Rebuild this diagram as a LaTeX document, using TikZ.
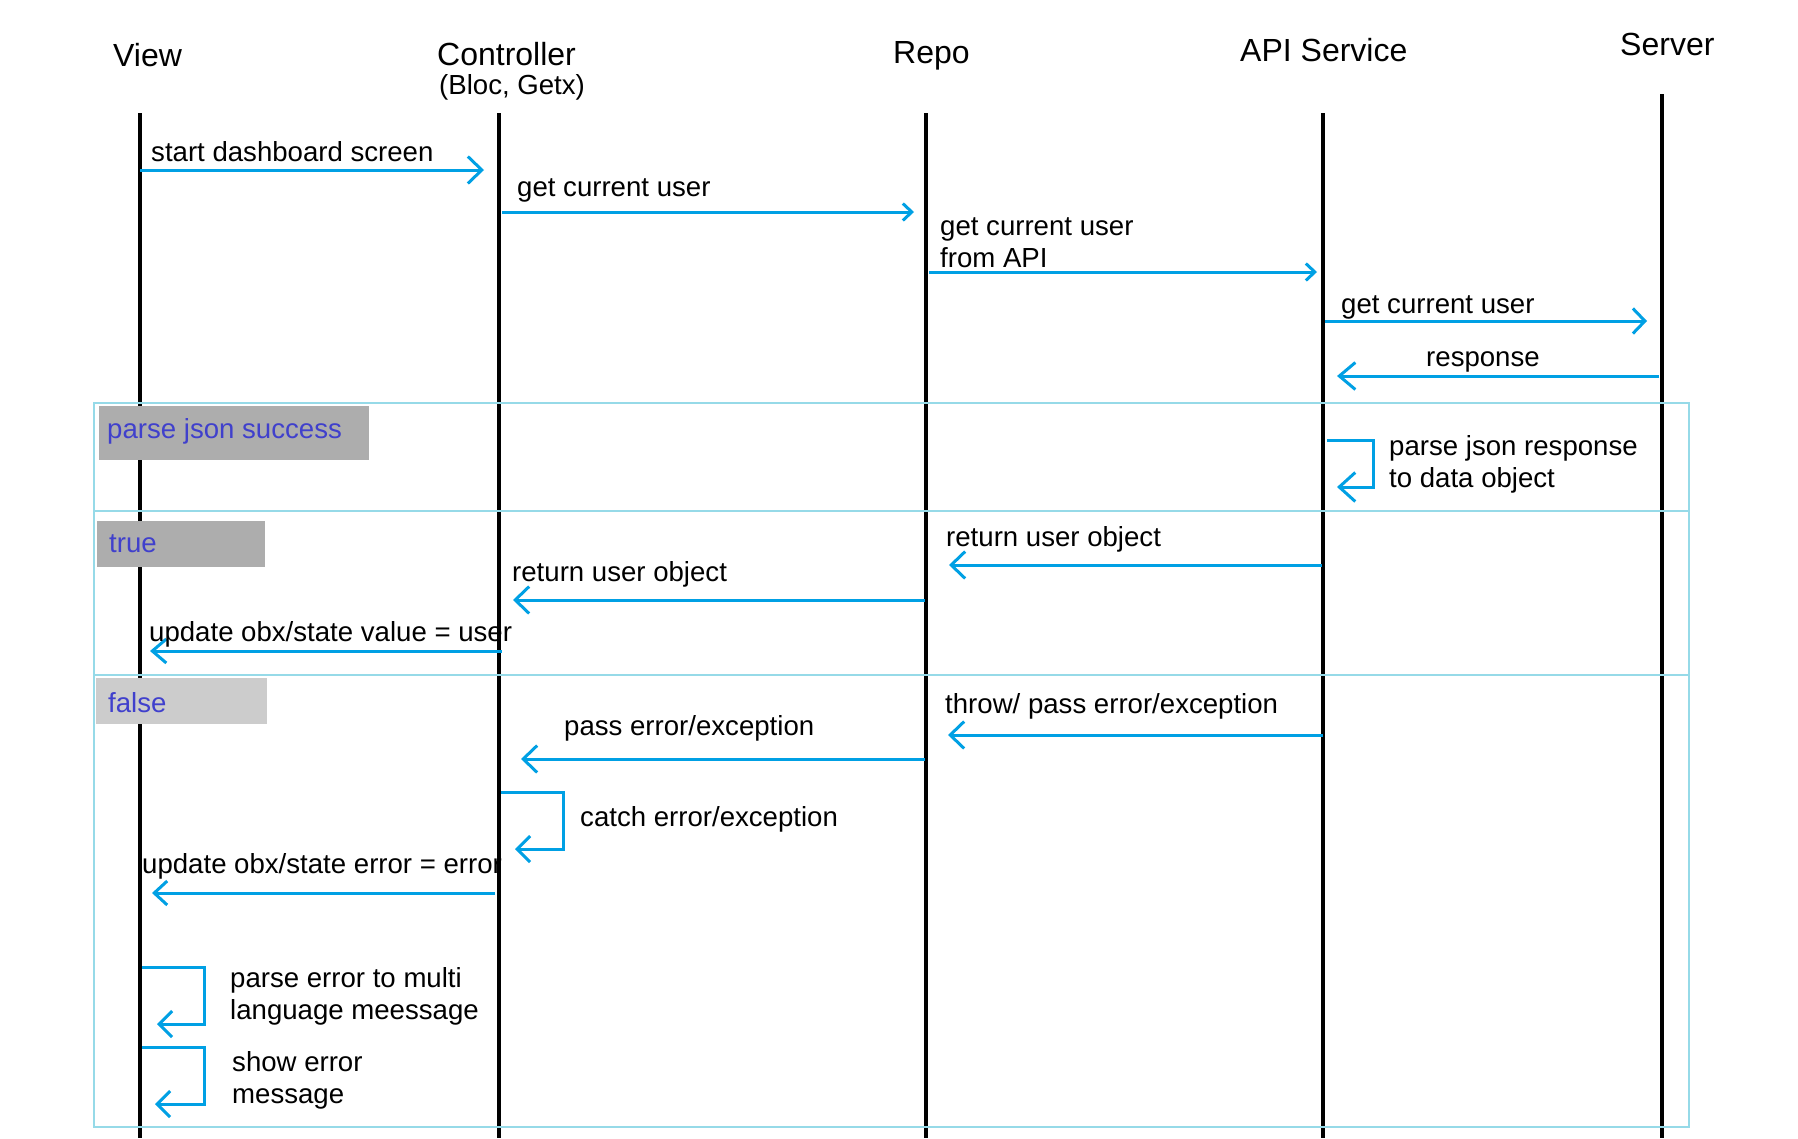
\documentclass[tikz,border=0pt]{standalone}
\usepackage{fontspec}
\setmainfont{Liberation Sans}
\usetikzlibrary{arrows.meta}
\definecolor{arrowblue}{RGB}{0,160,228}
\definecolor{framecyan}{RGB}{150,218,232}
\definecolor{boxgray}{RGB}{173,173,173}
\definecolor{boxlight}{RGB}{204,204,204}
\definecolor{condblue}{RGB}{64,64,204}
\tikzset{
  life/.style={line width=4.5pt, black},
  msg/.style={draw=arrowblue, line width=3pt, -{Straight Barb[length=14pt,width=27pt]}},
  msgsmall/.style={draw=arrowblue, line width=3pt, -{Straight Barb[length=9pt,width=17pt]}},
  selfmsg/.style={draw=arrowblue, line width=3pt, -{Straight Barb[length=13pt,width=26pt]}},
  title/.style={anchor=base west, inner sep=0pt, font=\fontsize{32}{36}\selectfont},
  lbl/.style={anchor=base west, inner sep=0pt, font=\fontsize{27.6}{32}\selectfont, align=left},
  frameline/.style={draw=framecyan, line width=1.5pt},
  condtext/.style={anchor=base west, inner sep=0pt, text=condblue, font=\fontsize{27.6}{32}\selectfont}
}
\begin{document}
\begin{tikzpicture}[x=1pt,y=-1pt]
\useasboundingbox (0,0) rectangle (1798,1138);
\fill[white] (0,0) rectangle (1798,1138);

% titles
\node[title] (tView) at (113,66) {View};
\node[title] (tCtrl) at (437,65) {Controller};
\node[lbl] (tCtrlSub) at (439,94) {(Bloc, Getx)};
\node[title] (tRepo) at (893,63) {Repo};
\node[title] (tApi) at (1240,61) {API Service};
\node[title] (tServer) at (1620,55) {Server};

% lifelines
\coordinate (viewT) at (140,113);   \coordinate (viewB) at (140,1138);
\coordinate (ctrlT) at (499,113);   \coordinate (ctrlB) at (499,1138);
\coordinate (repoT) at (926,113);   \coordinate (repoB) at (926,1138);
\coordinate (apiT) at (1323,113);   \coordinate (apiB) at (1323,1138);
\coordinate (srvT) at (1662,94);    \coordinate (srvB) at (1662,1138);
\draw[life] (viewT) -- (viewB);
\draw[life] (ctrlT) -- (ctrlB);
\draw[life] (repoT) -- (repoB);
\draw[life] (apiT) -- (apiB);
\draw[life] (srvT) -- (srvB);

% combined fragment frame
\coordinate (frNW) at (94,403);
\coordinate (frSE) at (1689,1127);
\draw[frameline] (frNW) rectangle (frSE);
\coordinate (d1L) at (94,511);  \coordinate (d1R) at (1689,511);
\coordinate (d2L) at (94,675);  \coordinate (d2R) at (1689,675);
\draw[frameline] (d1L) -- (d1R);
\draw[frameline] (d2L) -- (d2R);

% condition boxes
\fill[boxgray] (99,406) rectangle (369,460);
\node[condtext] (cSucc) at (107,438) {parse json success};
\fill[boxgray] (97,521) rectangle (265,567);
\node[condtext] (cTrue) at (109,552) {true};
\fill[boxlight] (96,678) rectangle (267,724);
\node[condtext] (cFalse) at (108,712) {false};

% message end points
\coordinate (m1s) at (140,170);  \coordinate (m1e) at (484,170);
\coordinate (m2s) at (502,212);  \coordinate (m2e) at (914,212);
\coordinate (m3s) at (929,272);  \coordinate (m3e) at (1317,272);
\coordinate (m4s) at (1325,321); \coordinate (m4e) at (1647,321);
\coordinate (m5s) at (1659,376); \coordinate (m5e) at (1337,376);
\coordinate (m6s) at (1327,440); \coordinate (m6e) at (1337,487);
\coordinate (m7s) at (1322,565); \coordinate (m7e) at (949,565);
\coordinate (m8s) at (925,600);  \coordinate (m8e) at (513,600);
\coordinate (m9s) at (502,651);  \coordinate (m9e) at (150,651);
\coordinate (m10s) at (1323,735); \coordinate (m10e) at (948,735);
\coordinate (m11s) at (925,759);  \coordinate (m11e) at (521,759);
\coordinate (m12s) at (501,792);  \coordinate (m12e) at (515,849);
\coordinate (m13s) at (495,893);  \coordinate (m13e) at (152,893);
\coordinate (m14s) at (142,967);  \coordinate (m14e) at (157,1024);
\coordinate (m15s) at (142,1047); \coordinate (m15e) at (155,1104);

% messages
\draw[msg] (m1s) -- (m1e);
\draw[msgsmall] (m2s) -- (m2e);
\draw[msgsmall] (m3s) -- (m3e);
\draw[msg,-{Straight Barb[length=12pt,width=25pt]}] (m4s) -- (m4e);
\draw[msg,-{Straight Barb[length=16pt,width=27pt]}] (m5s) -- (m5e);
\draw[selfmsg,-{Straight Barb[length=16pt,width=29pt]}] (m6s) -- (1373,440) -- (1373,487) -- (m6e);
\draw[msg] (m7s) -- (m7e);
\draw[msg] (m8s) -- (m8e);
\draw[msg,-{Straight Barb[length=14pt,width=24pt]}] (m9s) -- (m9e);
\draw[msg] (m10s) -- (m10e);
\draw[msg] (m11s) -- (m11e);
\draw[selfmsg] (m12s) -- (563,792) -- (563,849) -- (m12e);
\draw[msg,-{Straight Barb[length=13pt,width=24pt]}] (m13s) -- (m13e);
\draw[selfmsg] (m14s) -- (204,967) -- (204,1024) -- (m14e);
\draw[selfmsg] (m15s) -- (204,1047) -- (204,1104) -- (m15e);

% labels (multi-line nodes: base = last line)
\node[lbl] (l1) at (151,161) {start dashboard screen};
\node[lbl] (l2) at (517,196) {get current user};
\node[lbl] (l3) at (940,267) {get current user\\from API};
\node[lbl] (l4) at (1341,313) {get current user};
\node[lbl] (l5) at (1426,366) {response};
\node[lbl] (l6) at (1389,487) {parse json response\\to data object};
\node[lbl] (l7) at (946,546) {return user object};
\node[lbl] (l8) at (512,581) {return user object};
\node[lbl] (l9) at (149,641) {update obx/state value = user};
\node[lbl] (l10) at (945,713) {throw/ pass error/exception};
\node[lbl] (l11) at (564,735) {pass error/exception};
\node[lbl] (l12) at (580,826) {catch error/exception};
\node[lbl] (l13) at (142,873) {update obx/state error = error};
\node[lbl] (l14) at (230,1019) {parse error to multi\\language meessage};
\node[lbl] (l15) at (232,1103) {show error\\message};
\end{tikzpicture}
\end{document}
